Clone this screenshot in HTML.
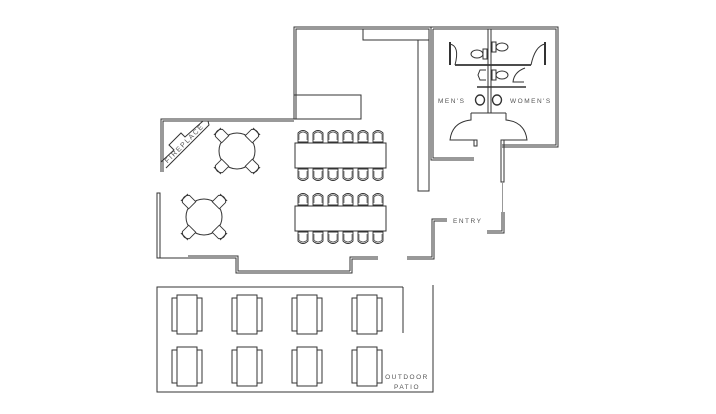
<!DOCTYPE html>
<html><head><meta charset="utf-8"><style>
html,body{margin:0;padding:0;background:#fff;}
svg{display:block;}
text{font-family:"Liberation Sans",sans-serif;fill:#555;letter-spacing:1.5px;}
</style></head><body>
<svg width="716" height="414" viewBox="0 0 716 414" xmlns="http://www.w3.org/2000/svg">
<defs>
<g id="cu"><path d="M-5,6 L-5,-3 Q0,-8 5,-3 L5,6 Z" fill="#fff" stroke="#333" stroke-width="0.9"/><path d="M-4,4 L-4,-2 Q0,-6 4,-2 L4,4" fill="none" stroke="#333" stroke-width="0.6"/></g>
<g id="cd"><use href="#cu" transform="rotate(180)"/></g>
<g id="pt"><rect x="-10" y="0" width="20" height="39" fill="#fff" stroke="#333"/><rect x="-15" y="3" width="5" height="33" fill="none" stroke="#333"/><rect x="10" y="3" width="5" height="33" fill="none" stroke="#333"/></g>
<g id="rc"><path d="M-5,6 L-5,-3 Q0,-8 5,-3 L5,6 Z" fill="#fff" stroke="#333" stroke-width="0.9"/><line x1="-5" y1="-5" x2="5" y2="-5" stroke="#333"/></g>
</defs>
<g fill="none" stroke="#333" stroke-width="1">
<!-- upper block -->
<path d="M294,119 L294,27 L432,27"/>
<path d="M296,119 L296,29 L363,29"/>
<rect x="294" y="95" width="67" height="24"/>
<rect x="363" y="29" width="66" height="11"/>
<rect x="418" y="40" width="11" height="151"/>
<!-- left room top wall -->
<path d="M161,172 L161,119 L294,119"/>
<path d="M163,172 L163,121 L294,121"/>
<!-- fireplace -->
<path d="M208,121 L209,125 L166,168"/>
<path d="M203,121 L185,137 L181,133 L169,145 L174,150 L161,162"/>
<!-- left window wall -->
<rect x="157" y="193" width="3" height="65"/>
<!-- bottom wall -->
<path d="M157,258 L188,258"/>
<path d="M188,256 L238,256 L238,271 L350,271"/>
<path d="M188,258 L236,258 L236,273 L352,273 L352,259 L378,259"/>
<path d="M350,271 L350,257 L378,257"/>
<path d="M407,257 L432,257 L432,219 L447,219"/>
<path d="M407,259 L434,259 L434,221 L447,221"/>
<!-- restroom enclosure -->
<path d="M431,27 L558,27 L558,147 L502,147"/>
<path d="M433,29 L556,29 L556,145 L502,145"/>
<path d="M431,27 L431,160 L474,160"/>
<path d="M433,29 L433,158 L474,158"/>
<rect x="488" y="29" width="3" height="84"/>
<!-- entry -->
<path d="M487,231 L502,231 L502,212"/>
<path d="M487,233 L504,233 L504,212"/>
<rect x="501" y="140" width="3" height="42"/>
<line x1="502.5" y1="182" x2="502.5" y2="212" stroke="#999"/>
<!-- stall walls -->
<line x1="455" y1="65" x2="531" y2="65" stroke-width="1.8"/>
<path d="M450,44 Q460,46 455,65" />
<line x1="450" y1="42" x2="450" y2="65" stroke-width="2"/>
<path d="M545,44 Q535,46 531,65"/>
<line x1="545" y1="42" x2="545" y2="65" stroke-width="2"/>
<path d="M525,68 Q514,72 513,82 L524,82"/>
<line x1="477" y1="87" x2="526" y2="87" stroke-width="1.6"/>
<!-- toilets -->
<rect x="483" y="49" width="4" height="10"/><ellipse cx="477" cy="54" rx="6" ry="4"/>
<rect x="492" y="42" width="4" height="10"/><ellipse cx="502" cy="47" rx="6" ry="4"/>
<rect x="492" y="70" width="4" height="10"/><ellipse cx="502" cy="75" rx="6" ry="4"/>
<path d="M486,70 L480,70 L478,75 L480,80 L486,80"/>
<!-- sinks -->
<ellipse cx="480" cy="100" rx="4.5" ry="5" stroke-width="1.4"/>
<ellipse cx="497" cy="100" rx="4.5" ry="5" stroke-width="1.4"/>
<!-- lower doors -->
<path d="M471,113 L506,113"/>
<path d="M471,113 L471,120 Q452,122 450,140 L474,140"/>
<path d="M506,113 L506,120 Q525,122 527,140 L502,140"/>
<rect x="474" y="140" width="3" height="6"/>
<!-- long tables -->
<rect x="295" y="143" width="91" height="25"/>
<rect x="295" y="206" width="91" height="25"/>
<!-- round tables -->
<circle cx="237" cy="151" r="18"/>
<circle cx="204" cy="217" r="18"/>
<!-- patio -->
<path d="M403,287 L157,287 L157,392 L433,392 L433,285"/>
<line x1="403" y1="287" x2="403" y2="333"/>
</g>
<!-- chairs long tables -->
<g>
<use href="#cu" x="303" y="136"/><use href="#cu" x="318" y="136"/><use href="#cu" x="333" y="136"/><use href="#cu" x="348" y="136"/><use href="#cu" x="363" y="136"/><use href="#cu" x="378" y="136"/>
<use href="#cd" x="303" y="175"/><use href="#cd" x="318" y="175"/><use href="#cd" x="333" y="175"/><use href="#cd" x="348" y="175"/><use href="#cd" x="363" y="175"/><use href="#cd" x="378" y="175"/>
<use href="#cu" x="303" y="199"/><use href="#cu" x="318" y="199"/><use href="#cu" x="333" y="199"/><use href="#cu" x="348" y="199"/><use href="#cu" x="363" y="199"/><use href="#cu" x="378" y="199"/>
<use href="#cd" x="303" y="238"/><use href="#cd" x="318" y="238"/><use href="#cd" x="333" y="238"/><use href="#cd" x="348" y="238"/><use href="#cd" x="363" y="238"/><use href="#cd" x="378" y="238"/>
</g>
<!-- round chairs -->
<g>
<use href="#rc" transform="translate(221,135) rotate(-45)"/>
<use href="#rc" transform="translate(253,135) rotate(45)"/>
<use href="#rc" transform="translate(221,167) rotate(-135)"/>
<use href="#rc" transform="translate(253,167) rotate(135)"/>
<use href="#rc" transform="translate(188,201) rotate(-45)"/>
<use href="#rc" transform="translate(220,201) rotate(45)"/>
<use href="#rc" transform="translate(188,233) rotate(-135)"/>
<use href="#rc" transform="translate(220,233) rotate(135)"/>
</g>
<!-- patio tables -->
<use href="#pt" x="187" y="295"/><use href="#pt" x="247" y="295"/><use href="#pt" x="307" y="295"/><use href="#pt" x="367" y="295"/>
<use href="#pt" x="187" y="347"/><use href="#pt" x="247" y="347"/><use href="#pt" x="307" y="347"/><use href="#pt" x="367" y="347"/>
<!-- labels -->
<text x="186" y="145" font-size="7" transform="rotate(-45 186 145)" text-anchor="middle">FIREPLACE</text>
<text x="438" y="103" font-size="6.5">MEN'S</text>
<text x="510" y="103" font-size="6.5">WOMEN'S</text>
<text x="453" y="223" font-size="6.5">ENTRY</text>
<text x="407" y="379" font-size="6.5" text-anchor="middle">OUTDOOR</text>
<text x="407" y="389" font-size="6.5" text-anchor="middle">PATIO</text>
</svg>
</body></html>
